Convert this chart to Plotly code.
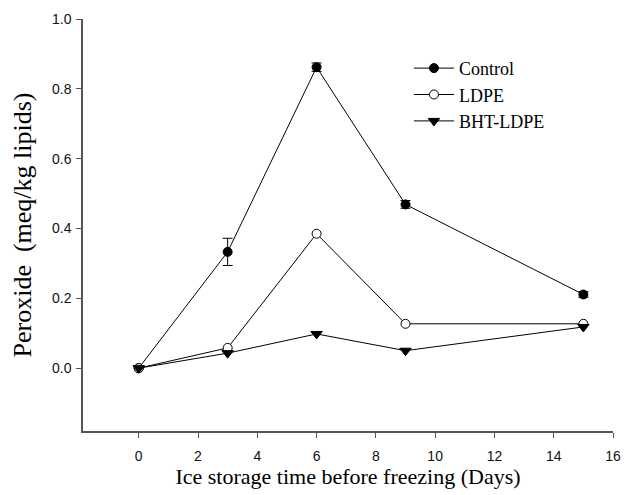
import plotly.graph_objects as go

days = [0, 3, 6, 9, 15]
control = [0.0, 0.333, 0.862, 0.469, 0.211]
control_err = [0.0, 0.039, 0.012, 0.011, 0.008]
ldpe = [0.0, 0.058, 0.385, 0.127, 0.127]
bht_ldpe = [0.0, 0.043, 0.098, 0.05, 0.118]

x_ticks = [0, 2, 4, 6, 8, 10, 12, 14, 16]
y_ticks = [0.0, 0.2, 0.4, 0.6, 0.8, 1.0]

fig = go.Figure()
fig.add_trace(go.Scatter(
    x=days, y=control, name="Control", mode="lines+markers",
    line=dict(color="black", width=1),
    marker=dict(symbol="circle", size=9, color="black", line=dict(color="black", width=1)),
    error_y=dict(type="data", array=control_err, visible=True, color="black", thickness=1, width=5),
))
fig.add_trace(go.Scatter(
    x=days, y=ldpe, name="LDPE", mode="lines+markers",
    line=dict(color="black", width=1),
    marker=dict(symbol="circle", size=9, color="white", line=dict(color="black", width=1)),
))
fig.add_trace(go.Scatter(
    x=days, y=bht_ldpe, name="BHT-LDPE", mode="lines+markers",
    line=dict(color="black", width=1),
    marker=dict(symbol="triangle-down", size=10, color="black", line=dict(color="black", width=1)),
))

axis_common = dict(
    showgrid=False, zeroline=False, showline=True, linecolor="#555555", linewidth=1.5,
    ticks="outside", ticklen=5, tickcolor="#555555", tickwidth=1.2,
    tickfont=dict(family="Liberation Sans", size=14, color="#111111"),
    automargin=False,
)

fig.update_layout(
    width=639, height=495,
    margin=dict(l=75, r=34, t=11, b=72),
    paper_bgcolor="white", plot_bgcolor="white",
    showlegend=True,
    legend=dict(
        x=0.615, y=0.925, xanchor="left", yanchor="top",
        font=dict(family="Liberation Serif", size=18, color="black"),
        bgcolor="rgba(0,0,0,0)", itemwidth=40, tracegroupgap=0,
    ),
    xaxis=dict(
        range=[-1.88, 16], tickvals=x_ticks, ticktext=[str(v) for v in x_ticks],
        ticklabelstandoff=6,
        title=dict(text="Ice storage time before freezing (Days)",
                   font=dict(family="Liberation Serif", size=22, color="black"),
                   standoff=6),
        **axis_common,
    ),
    yaxis=dict(
        range=[-0.18, 1.0], tickvals=y_ticks, ticktext=[f"{v:.1f}" for v in y_ticks],
        ticklabelstandoff=2,
        title=dict(text="Peroxide&nbsp;&nbsp;(meq/kg lipids)",
                   font=dict(family="Liberation Serif", size=26, color="black"),
                   standoff=14),
        **axis_common,
    ),
)

fig.write_html("out.html")
